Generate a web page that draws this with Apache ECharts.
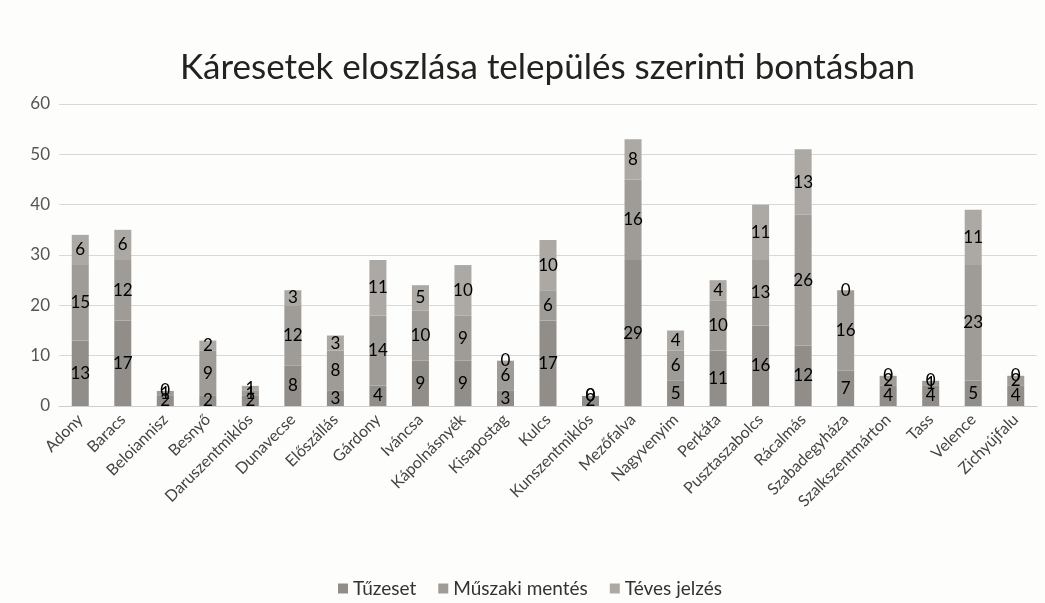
<!DOCTYPE html>
<html>
<head>
<meta charset="utf-8">
<script src="https://cdn.jsdelivr.net/npm/echarts@6/dist/echarts.min.js"></script>
<style>
html,body{margin:0;padding:0;background:#fdfdfc;}
#chart{width:1045px;height:603px;}
</style>
</head>
<body>
<div id="chart"></div>
<script>
const categories = ["Adony","Baracs","Beloiannisz","Besnyő","Daruszentmiklós","Dunavecse","Előszállás","Gárdony","Iváncsa","Kápolnásnyék","Kisapostag","Kulcs","Kunszentmiklós","Mezőfalva","Nagyvenyim","Perkáta","Pusztaszabolcs","Rácalmás","Szabadegyháza","Szalkszentmárton","Tass","Velence","Zichyújfalu"];
const tuzeset = [13,17,2,2,2,8,3,4,9,9,3,17,2,29,5,11,16,12,7,4,4,5,4];
const muszaki = [15,12,1,9,1,12,8,14,10,9,6,6,0,16,6,10,13,26,16,2,1,23,2];
const teves   = [6,6,0,2,1,3,3,11,5,10,0,10,0,8,4,4,11,13,0,0,0,11,0];
const seriesNames = ["Tűzeset","Műszaki mentés","Téves jelzés"];
const yTicks = [0,10,20,30,40,50,60];

const colors = ['#918e89','#9f9c97','#aca9a4'];
const font = 'Lato, "Open Sans", sans-serif';
const chart = echarts.init(document.getElementById('chart'));
const mk = (name, data, i) => ({
  name, type:'bar', stack:'total', data, barWidth:'40%',
  itemStyle:{color:colors[i]},
  label:{show:true, position:'inside', color:'#000', fontSize:17, fontFamily:font}
});
chart.setOption({
  backgroundColor:'#fdfdfc',
  animation:false,
  title:{text:'Káresetek eloszlása település szerinti bontásban', left:175, top:45,
    textStyle:{fontFamily:font, fontSize:35, fontWeight:'normal', color:'#222'}},
  grid:{left:59, right:8, top:104, bottom:197},
  legend:{bottom:0, left:333, itemWidth:10, itemHeight:10, itemGap:22, icon:'rect',
    textStyle:{fontFamily:font, fontSize:19, color:'#333'}},
  xAxis:{type:'category', data:categories,
    axisTick:{show:false}, axisLine:{lineStyle:{color:'#cfcfcf'}},
    axisLabel:{rotate:45, interval:0, fontFamily:font, fontSize:16, color:'#444', margin:11}},
  yAxis:{type:'value', min:yTicks[0], max:yTicks[yTicks.length-1], interval:10,
    axisLabel:{fontFamily:font, fontSize:17, color:'#555', margin:9},
    splitLine:{lineStyle:{color:'#d8d8d8'}}},
  series:[mk(seriesNames[0],tuzeset,0), mk(seriesNames[1],muszaki,1), mk(seriesNames[2],teves,2)]
});
</script>
</body>
</html>
